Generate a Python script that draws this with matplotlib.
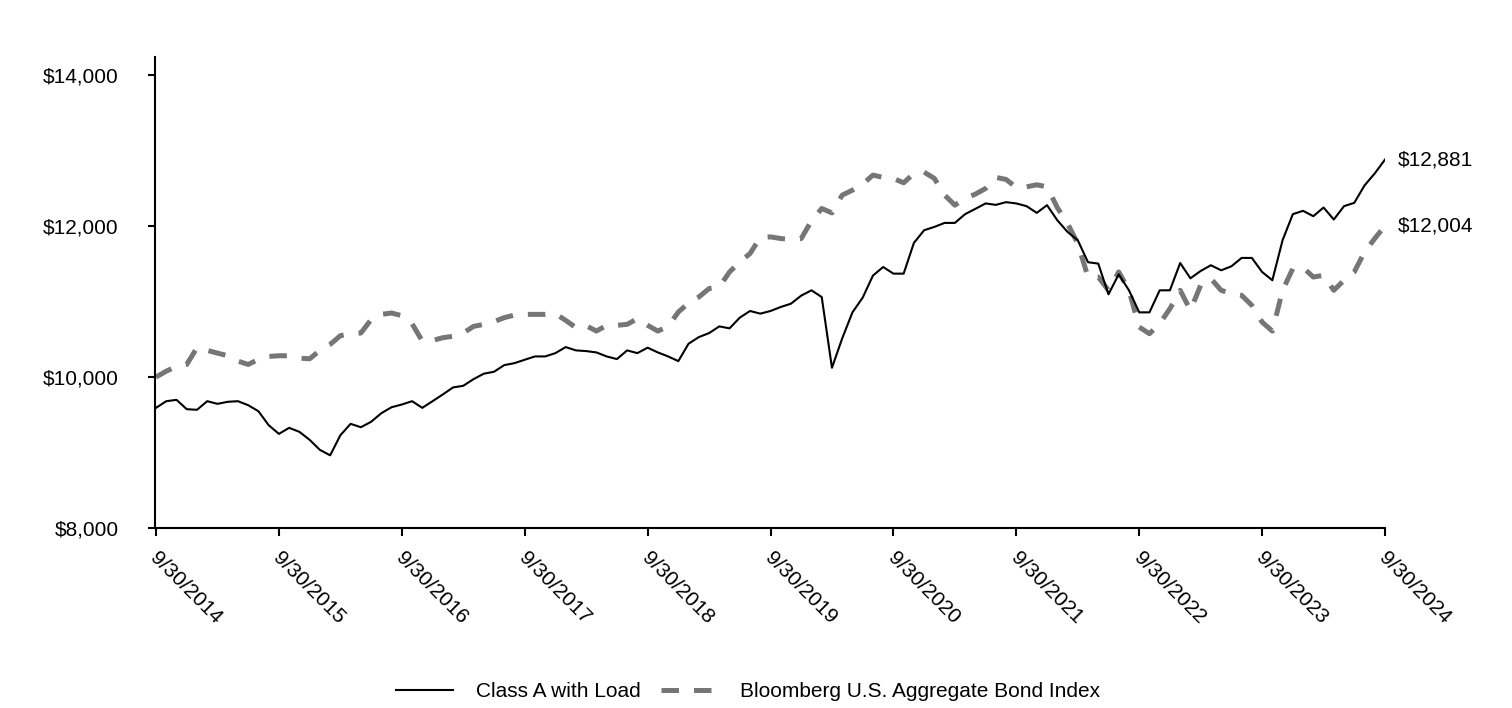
import matplotlib
matplotlib.use("Agg")
import matplotlib.pyplot as plt
from matplotlib.ticker import FuncFormatter
from matplotlib.transforms import ScaledTranslation

plt.rcParams['font.family'] = ['Liberation Sans', 'DejaVu Sans']

# Monthly values, 9/30/2014 .. 9/30/2024
class_a = [
    9592, 9680, 9698, 9574, 9566, 9680, 9645, 9672, 9680, 9627, 9547, 9362,
    9247, 9327, 9274, 9168, 9035, 8963, 9229, 9380, 9335, 9407, 9521, 9600,
    9636, 9680, 9592, 9680, 9769, 9862, 9884, 9972, 10044, 10070, 10158, 10184,
    10229, 10273, 10273, 10317, 10397, 10353, 10344, 10326, 10273, 10238, 10353, 10317,
    10389, 10326, 10273, 10211, 10442, 10529, 10582, 10671, 10645, 10787, 10875, 10840,
    10875, 10928, 10972, 11079, 11149, 11060, 10123, 10512, 10857, 11052, 11344, 11458,
    11370, 11370, 11777, 11945, 11989, 12042, 12042, 12158, 12228, 12300, 12281, 12317,
    12300, 12264, 12175, 12277, 12078, 11923, 11813, 11521, 11503, 11096, 11361, 11149,
    10857, 10857, 11149, 11149, 11511, 11308, 11405, 11481, 11414, 11467, 11578, 11578,
    11392, 11282, 11813, 12158, 12202, 12131, 12246, 12087, 12264, 12308, 12538, 12698,
    12881,
]
bond_index = [
    10000, 10078, 10140, 10167, 10389, 10353, 10317, 10282, 10211, 10167, 10233, 10273,
    10282, 10282, 10250, 10242, 10353, 10432, 10548, 10574, 10583, 10760, 10830, 10848,
    10813, 10707, 10476, 10485, 10521, 10540, 10583, 10671, 10698, 10734, 10787, 10821,
    10830, 10830, 10830, 10838, 10751, 10654, 10680, 10609, 10685, 10685, 10698, 10773,
    10685, 10609, 10671, 10861, 10981, 11060, 11172, 11194, 11392, 11525, 11636, 11850,
    11857, 11835, 11822, 11835, 12069, 12233, 12175, 12410, 12476, 12556, 12675, 12645,
    12631, 12573, 12698, 12715, 12631, 12410, 12277, 12366, 12423, 12498, 12645, 12618,
    12512, 12520, 12547, 12520, 12246, 12034, 11769, 11325, 11325, 11149, 11392, 11149,
    10662, 10574, 10707, 10906, 11149, 10884, 11215, 11304, 11149, 11105, 11083, 10950,
    10728, 10609, 11149, 11437, 11450, 11325, 11348, 11149, 11282, 11392, 11657, 11835,
    12004,
]
tick_labels = ["9/30/2014", "9/30/2015", "9/30/2016", "9/30/2017", "9/30/2018",
               "9/30/2019", "9/30/2020", "9/30/2021", "9/30/2022", "9/30/2023",
               "9/30/2024"]
series_names = ["Class A with Load", "Bloomberg U.S. Aggregate Bond Index"]
end_labels = ["$12,881", "$12,004"]

months = list(range(len(class_a)))
tick_pos = [12 * i for i in range(len(tick_labels))]

fig = plt.figure(figsize=(15.12, 7.08), dpi=100)
ax = fig.add_axes([155 / 1512, 1 - 528 / 708, (1385 - 155) / 1512, (528 - 57) / 708])

gray = "#767676"
ax.plot(months, class_a, color="black", lw=1.5, label=series_names[0], zorder=3)
ax.plot(months, bond_index, color=gray, lw=3.6, dashes=(3.5, 3),
        solid_capstyle="butt", dash_capstyle="butt", label=series_names[1], zorder=2)

ax.set_xlim(-0.1, 120)
ax.set_ylim(8000, 14240)
ax.set_yticks([8000, 10000, 12000, 14000])
ax.yaxis.set_major_formatter(FuncFormatter(lambda v, p: f"${v:,.0f}"))
ax.set_xticks(tick_pos)
ax.set_xticklabels(tick_labels, rotation=-45, ha="left", va="top",
                   rotation_mode="anchor")

for s in ["top", "right"]:
    ax.spines[s].set_visible(False)
for s in ["left", "bottom"]:
    ax.spines[s].set_linewidth(1.5)
    ax.spines[s].set_color("black")

ax.tick_params(axis="y", direction="out", length=5, width=1.5, labelsize=15, pad=21)
ax.tick_params(axis="x", direction="out", length=5.8, width=1.5, labelsize=15, pad=9)

shift = ScaledTranslation(4 / 100, 0, fig.dpi_scale_trans)
for lbl in ax.get_xticklabels():
    lbl.set_transform(lbl.get_transform() + shift)

for vals, lab in zip([class_a, bond_index], end_labels):
    ax.annotate(lab, xy=(months[-1], vals[-1]), xytext=(9, 0),
                textcoords="offset points", va="center", ha="left",
                fontsize=15, annotation_clip=False)

fig.legend(loc="center", bbox_to_anchor=(0.495, 0.0226), ncol=2, frameon=False,
           fontsize=15, handlelength=2.7, handletextpad=1.1, columnspacing=1.0)

fig.savefig("out.png", dpi=100)
